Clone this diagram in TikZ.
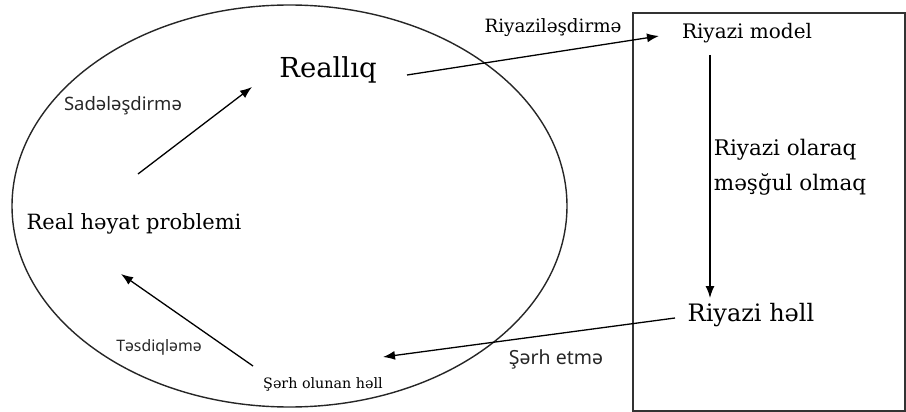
\documentclass[tikz,border=0pt]{standalone}
\usepackage{fontspec}
\setmainfont{DejaVu Serif}
\newfontfamily\labelsans{Noto Sans}
\usetikzlibrary{arrows.meta, positioning}
\tikzset{
	flowarrow/.style={line width=1.3pt, -{Latex[length=12pt,width=9pt]}}
}
\tikzset{
	bigtext/.style={font=\fontsize{21}{25}\selectfont, inner sep=0pt}
}
\tikzset{
	steptext/.style={font=\labelsans\fontsize{18.5}{22}\selectfont, inner sep=0pt, text=black!85}
}

\begin{document}
\begin{tikzpicture}[x=1pt, y=-1pt]

			\useasboundingbox (0,0) rectangle (906,412);

			\begin{scope}
				\draw[line width=1.4pt, black!85] (289.5,206) ellipse [x radius=277.5, y radius=201];
				\draw[line width=1.3pt, black!80] (633,13) rectangle (905,411);
			\end{scope}

			\begin{scope}
				\node[bigtext, font=\fontsize{27.5}{30}\selectfont] (real) at (328,70) {Reallıq};
				\node[bigtext] (problem) at (134,224) {Real həyat problemi};
				\node[bigtext, font=\fontsize{14.3}{17}\selectfont] (interp) at (323,384) {Şərh olunan həll};
				\node[bigtext, font=\fontsize{20}{24}\selectfont] (model) at (747,33) {Riyazi model};
				\node[bigtext, font=\fontsize{24}{28}\selectfont] (sol) at (751,315) {Riyazi həll};
				\node[bigtext, font=\fontsize{21.5}{35}\selectfont, align=left] (work) at (790,167) {Riyazi olaraq\\məşğul olmaq};

				\node[bigtext, font=\fontsize{18.3}{22}\selectfont] (lmath) at (553,28) {Riyaziləşdirmə};
				\node[steptext] (lsimp) at (123,106) {Sadələşdirmə};
				\node[steptext, font=\labelsans\fontsize{15.8}{18}\selectfont] (lcheck) at (159,347) {Təsdiqləmə};
				\node[steptext, font=\labelsans\fontsize{19.5}{22}\selectfont] (lexpl) at (556,359) {Şərh etmə};
			\end{scope}

			\begin{scope}
				\coordinate (simpA) at (138,174);
				\coordinate (simpB) at (252,87);
				\coordinate (mathA) at (407,75);
				\coordinate (mathB) at (659,36);
				\coordinate (workA) at (710,55);
				\coordinate (workB) at (710,298);
				\coordinate (explA) at (675,318);
				\coordinate (explB) at (383,357);
				\coordinate (checkA) at (253,366);
				\coordinate (checkB) at (121,274);

				\draw[flowarrow] (simpA) -- (simpB);
				\draw[flowarrow] (mathA) -- (mathB);
				\draw[flowarrow] (workA) -- (workB);
				\draw[flowarrow] (explA) -- (explB);
				\draw[flowarrow] (checkA) -- (checkB);
			\end{scope}

		\end{tikzpicture}
\end{document}
